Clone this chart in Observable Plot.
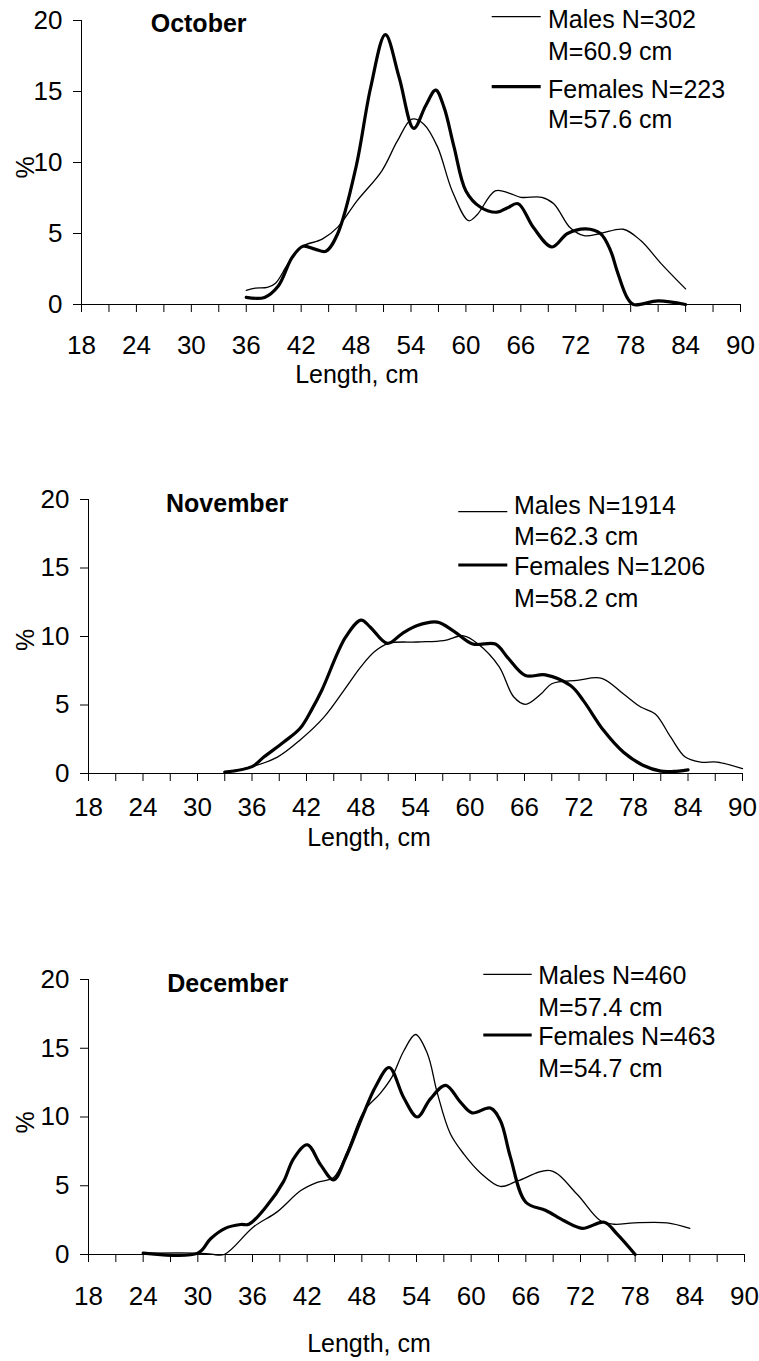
<!DOCTYPE html>
<html>
<head>
<meta charset="utf-8">
<script src="https://cdn.jsdelivr.net/npm/d3@7"></script>
<script src="https://cdn.jsdelivr.net/npm/@observablehq/plot@0.6"></script>
<style>
  body { margin: 0; background: #fff; }
  #wrap { position: relative; width: 759px; height: 1361px; overflow: hidden; background: #fff; }
  #wrap svg { position: absolute; left: 0; }
</style>
</head>
<body>
<div id="wrap"></div>
<script>
// ---------- DATA ----------
const months = ["October", "November", "December"];
const maleN = [302, 1914, 460];
const femaleN = [223, 1206, 463];
const maleMean = [60.9, 62.3, 57.4];
const femaleMean = [57.6, 58.2, 54.7];

const xTickLabels = [18, 24, 30, 36, 42, 48, 54, 60, 66, 72, 78, 84, 90];
const xMinorTicks = [18, 21, 24, 27, 30, 33, 36, 39, 42, 45, 48, 51, 54, 57, 60, 63, 66, 69, 72, 75, 78, 81, 84, 87, 90];
const yTicks = [0, 5, 10, 15, 20];
const xTitle = "Length, cm";
const yTitle = "%";

// October
const octMaleLen = [36, 37, 38.3, 39.2, 40.5, 42, 44.3, 46, 48.1, 50.8, 52.5, 54.1, 55.4, 56.9, 58.5, 60.3, 61.2, 63.2, 64.7, 66, 68.3, 69.6, 71.4, 72.9, 74.7, 77.2, 79.1, 81.3, 84];
const octMalePct = [1.0, 1.15, 1.2, 1.5, 2.8, 4.05, 4.6, 5.45, 7.3, 9.4, 11.5, 13.05, 12.7, 11.1, 8.0, 5.9, 6.3, 8.0, 7.85, 7.55, 7.55, 7.1, 5.4, 4.85, 5.0, 5.3, 4.5, 2.9, 1.1];
const octFemaleLen = [36, 38, 39.5, 41, 42.2, 43.5, 44.7, 46, 48, 49.6, 51.2, 52.7, 54.3, 55.6, 56.7, 57.6, 58.7, 60, 61.6, 63.4, 64.5, 65.7, 67.4, 69.4, 71.1, 73.1, 74.7, 75.8, 76.5, 77.6, 78.3, 81, 84];
const octFemalePct = [0.5, 0.5, 1.3, 3.3, 4.1, 3.9, 3.75, 5.0, 9.7, 15.3, 19.0, 16.0, 12.4, 14.0, 15.1, 13.9, 11.1, 8.0, 6.85, 6.5, 6.8, 7.1, 5.4, 4.05, 5.0, 5.33, 5.0, 3.8, 2.4, 0.5, 0.0, 0.25, 0.0];

// November
const novMaleLen = [33, 36, 38.8, 41.3, 43.9, 46.1, 48, 49.5, 51, 54.2, 57.1, 59.3, 60.8, 63.2, 64.8, 66.1, 67.8, 69, 71.8, 74.5, 76.9, 78.8, 80.4, 82.1, 83.7, 85.4, 87.2, 90];
const novMalePct = [0.1, 0.5, 1.2, 2.45, 4.1, 6.05, 7.8, 8.9, 9.5, 9.6, 9.7, 10.05, 9.5, 7.8, 5.6, 5.05, 5.8, 6.55, 6.8, 6.95, 5.8, 4.85, 4.35, 2.65, 1.2, 0.83, 0.83, 0.35];
const novFemaleLen = [33, 36, 37.3, 39.5, 41.3, 42.6, 43.7, 46.3, 48, 49, 50.9, 52.5, 54.2, 56.4, 58.2, 60.3, 62.8, 64.1, 66.1, 68.3, 71.1, 72.5, 74.7, 76.9, 79.1, 81, 82.4, 84];
const novFemalePct = [0.1, 0.5, 1.2, 2.3, 3.3, 4.7, 6.1, 9.95, 11.2, 10.7, 9.5, 10.2, 10.8, 11.05, 10.4, 9.45, 9.45, 8.5, 7.15, 7.2, 6.4, 5.3, 3.15, 1.55, 0.58, 0.17, 0.15, 0.27];

// December
const decMaleLen = [24, 30, 31.5, 32.9, 36.1, 38.7, 41.3, 43.1, 44.9, 46.4, 48.2, 50, 51.3, 52.6, 53.9, 55.2, 56.3, 57.7, 59.2, 61, 63.2, 65.1, 68.7, 71.6, 74.2, 75.7, 77.9, 81.5, 84];
const decMalePct = [0.1, 0.1, 0.02, 0.0, 2.0, 3.1, 4.65, 5.25, 5.6, 7.5, 10.4, 11.7, 12.9, 14.8, 16.0, 14.6, 11.7, 8.8, 7.3, 5.95, 4.95, 5.35, 6.1, 4.4, 2.45, 2.2, 2.3, 2.3, 1.9];
const decFemaleLen = [24, 30, 31.4, 33, 34.7, 35.6, 37.6, 39.4, 40.5, 42, 43.5, 44.9, 46.2, 48.1, 49.5, 51, 52.6, 54.1, 55.5, 57.2, 58.8, 60.1, 62.1, 63.2, 64.3, 66, 68.2, 70.2, 72.2, 74.6, 76, 78];
const decFemalePct = [0.1, 0.1, 1.15, 1.9, 2.18, 2.2, 3.56, 5.3, 6.96, 7.98, 6.5, 5.43, 7.0, 10.1, 12.2, 13.6, 11.4, 10.0, 11.3, 12.3, 11.1, 10.3, 10.65, 9.75, 7.1, 3.8, 3.2, 2.45, 1.9, 2.35, 1.5, 0.0];

const maleSeries = [[octMaleLen, octMalePct], [novMaleLen, novMalePct], [decMaleLen, decMalePct]];
const femaleSeries = [[octFemaleLen, octFemalePct], [novFemaleLen, novFemalePct], [decFemaleLen, decFemalePct]];

// ---------- LAYOUT ----------
const FONT = "Arial, 'Liberation Sans', sans-serif";
const TICK_FS = 26;
const layout = [
  {top: 0,   height: 400, ml: 81, mr: 19, mt: 20,  mb: 96,  xpad: 31,
   title: [150.7, 31.7], leg: {x1: 491.7, x2: 540.7, tx: 548, yThin: 16.7, yThick: 86.7, b: [28.3, 60, 98.3, 128]},
   pct: [25, 167.5], xlab: [357, 383]},
  {top: 400, height: 460, ml: 88, mr: 17, mt: 99,  mb: 87,  xpad: 24,
   title: [166, 512.3], leg: {x1: 458.3, x2: 507.3, tx: 514, yThin: 511.7, yThick: 565, b: [514, 545, 575, 606.7]},
   pct: [25, 640], xlab: [369, 846]},
  {top: 860, height: 501, ml: 88, mr: 15, mt: 119, mb: 107, xpad: 32,
   title: [167.3, 992.3], leg: {x1: 483.3, x2: 531.7, tx: 538.3, yThin: 974.3, yThick: 1035, b: [984, 1016, 1045, 1076.7]},
   pct: [25, 1122.5], xlab: [369, 1352]}
];

const wrap = document.getElementById("wrap");

layout.forEach((L, i) => {
  const males = maleSeries[i][0].map((len, k) => ({len, pct: maleSeries[i][1][k]}));
  const females = femaleSeries[i][0].map((len, k) => ({len, pct: femaleSeries[i][1][k]}));
  const chart = Plot.plot({
    width: 759,
    height: L.height,
    marginLeft: L.ml, marginRight: L.mr, marginTop: L.mt, marginBottom: L.mb,
    style: {fontFamily: FONT, fontSize: TICK_FS + "px", background: "transparent", color: "#000", overflow: "visible"},
    x: {domain: [18, 90], label: null},
    y: {domain: [0, 20], label: null},
    marks: [
      Plot.axisX(xMinorTicks, {tickSize: 8, tickFormat: () => "", label: null, stroke: "#000"}),
      Plot.axisX(xTickLabels, {tickSize: 0, tickPadding: L.xpad, label: null, fontSize: TICK_FS, fill: "#000"}),
      Plot.axisY(yTicks, {tickSize: 8, tickPadding: 11, label: null, fontSize: TICK_FS, fill: "#000", stroke: "#000"}),
      Plot.ruleY([0], {stroke: "#000"}),
      Plot.ruleX([18], {stroke: "#000"}),
      Plot.line(males, {x: "len", y: "pct", curve: "catmull-rom", stroke: "#000", strokeWidth: 1.3}),
      Plot.line(females, {x: "len", y: "pct", curve: "catmull-rom", stroke: "#000", strokeWidth: 3.2})
    ]
  });
  chart.style.top = L.top + "px";
  wrap.appendChild(chart);
});

// ---------- TITLES, LEGENDS, AXIS TITLES ----------
const ov = d3.select(wrap).append("svg")
  .attr("width", 759).attr("height", 1361)
  .style("top", "0px").style("pointer-events", "none")
  .attr("font-family", FONT).attr("fill", "#000");

layout.forEach((L, i) => {
  ov.append("text").attr("x", L.title[0]).attr("y", L.title[1])
    .attr("font-size", 25).attr("font-weight", "bold").text(months[i]);
  const g = L.leg;
  ov.append("line").attr("x1", g.x1).attr("x2", g.x2).attr("y1", g.yThin).attr("y2", g.yThin)
    .attr("stroke", "#000").attr("stroke-width", 1.3);
  ov.append("line").attr("x1", g.x1).attr("x2", g.x2).attr("y1", g.yThick).attr("y2", g.yThick)
    .attr("stroke", "#000").attr("stroke-width", 3.2);
  const lines = [
    `Males N=${maleN[i]}`, `M=${maleMean[i].toFixed(1)} cm`,
    `Females N=${femaleN[i]}`, `M=${femaleMean[i].toFixed(1)} cm`
  ];
  lines.forEach((t, k) => {
    ov.append("text").attr("x", g.tx).attr("y", g.b[k]).attr("font-size", 25).text(t);
  });
  ov.append("text")
    .attr("transform", `translate(${L.pct[0]},${L.pct[1]}) rotate(-90)`)
    .attr("text-anchor", "middle").attr("dy", "0.35em")
    .attr("font-size", 25).text(yTitle);
  ov.append("text").attr("x", L.xlab[0]).attr("y", L.xlab[1])
    .attr("text-anchor", "middle").attr("font-size", 25).text(xTitle);
});
</script>
</body>
</html>
